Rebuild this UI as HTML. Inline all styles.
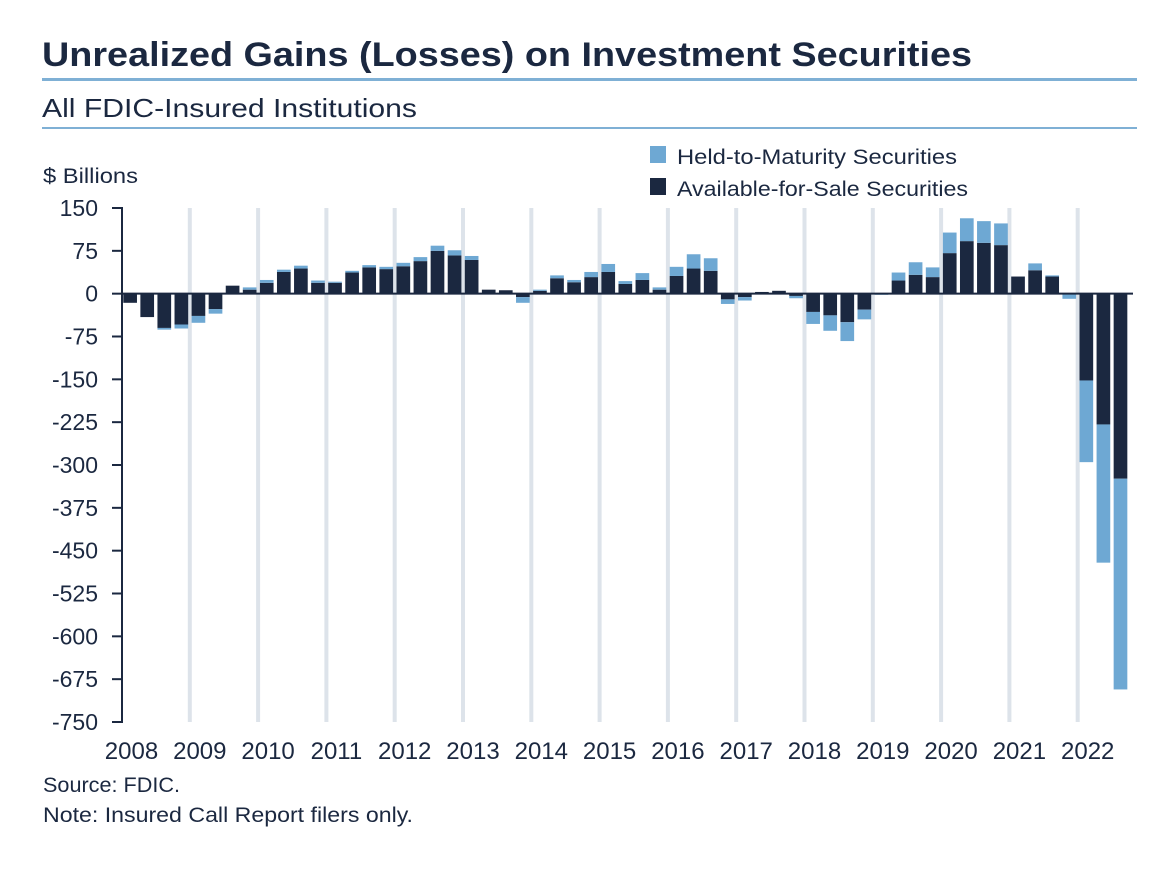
<!DOCTYPE html>
<html><head><meta charset="utf-8"><style>
html,body{margin:0;padding:0;background:#fff;}
svg{display:block;font-family:"Liberation Sans",sans-serif;}
</style></head><body>
<svg id="chart" width="1170" height="879" viewBox="0 0 1170 879">
<text x="42" y="66" font-size="34" font-weight="bold" fill="#1b2840" textLength="930" lengthAdjust="spacingAndGlyphs">Unrealized Gains (Losses) on Investment Securities</text>
<rect x="42" y="78" width="1095" height="3" fill="#7fb0d5"/>
<text x="42" y="117" font-size="26" fill="#1b2840" textLength="375" lengthAdjust="spacingAndGlyphs">All FDIC-Insured Institutions</text>
<rect x="42" y="127" width="1095" height="2" fill="#7fb0d5"/>
<text x="43" y="183" font-size="21" fill="#1b2840" textLength="95" lengthAdjust="spacingAndGlyphs">$ Billions</text>
<g>
<rect x="650" y="146" width="16" height="17" fill="#6ea8d3"/>
<text x="677" y="164" font-size="21" fill="#1b2840" textLength="280" lengthAdjust="spacingAndGlyphs">Held-to-Maturity Securities</text>
<rect x="650" y="178" width="16" height="17" fill="#1b2840"/>
<text x="677" y="196" font-size="21" fill="#1b2840" textLength="291" lengthAdjust="spacingAndGlyphs">Available-for-Sale Securities</text>
</g>
<g id="plot"></g>
<text x="43" y="792" font-size="21" fill="#1b2840" textLength="137" lengthAdjust="spacingAndGlyphs">Source: FDIC.</text>
<text x="43" y="822" font-size="21" fill="#1b2840" textLength="370" lengthAdjust="spacingAndGlyphs">Note: Insured Call Report filers only.</text>
</svg>
<script>
const years = [2008,2009,2010,2011,2012,2013,2014,2015,2016,2017,2018,2019,2020,2021,2022];
const yTicks = [150,75,0,-75,-150,-225,-300,-375,-450,-525,-600,-675,-750];
const afsValues = [-16,-41,-60,-54,-39,-27,14,7,19,38,44,19,19,37,46,43,48,57,75,67,59,7,6,-6,5,27,20,29,38,17,24,7,31,44,40,-10,-6,3,5,-4,-32,-38,-50,-28,0,23,33,29,71,92,89,85,30,41,30,1,-152,-229,-324];
const htmValues = [0,0,-3,-7,-12,-8,0,4,5,4,5,4,2,3,4,4,6,7,9,9,7,-1,-1,-10,2,5,4,9,14,5,12,4,16,25,22,-8,-6,0,-1,-4,-21,-27,-33,-17,-2,14,22,17,36,40,38,38,0,12,2,-9,-143,-242,-369];

const NS="http://www.w3.org/2000/svg";
const plot=document.getElementById('plot');
const X0=121.5, YW=68.3, QW=YW/4, Y150=208, Y750=722;
function yScale(v){return Y150+(150-v)*(Y750-Y150)/900;}
function xYear(i){return X0+i*YW;}
function xQuarter(i){return X0+i*QW;}
function mk(tag,attrs){const e=document.createElementNS(NS,tag);for(const k in attrs)e.setAttribute(k,attrs[k]);plot.appendChild(e);return e;}

for(let i=1;i<years.length;i++){
  const g=mk('rect',{x:xYear(i)-2,y:Y150,width:4,height:Y750-Y150,fill:'#dde3ea'});
  
  
}
yTicks.forEach(v=>{
  const y=yScale(v);
  const t=mk('line',{x1:112,x2:122,y1:y,y2:y,stroke:'#1b2840','stroke-width':2});
  
  
  const l=mk('text',{x:98,y:y+8,'font-size':23,fill:'#1b2840','text-anchor':'end'});
  l.textContent=v;
  
  
});
afsValues.forEach((a,i)=>{
  const h=htmValues[i];
  const x=xQuarter(i)+1.8, w=QW-3.4;
  let pos=0,neg=0;
  function seg(v,color,name){
    if(v===0)return;
    let y0,y1;
    if(v>0){y0=pos;y1=pos+v;pos=y1;}else{y0=neg;y1=neg+v;neg=y1;}
    const top=yScale(Math.max(y0,y1)),bot=yScale(Math.min(y0,y1));
    const r=mk('rect',{x:x,y:top,width:w,height:Math.max(bot-top,0.5),fill:color});
    
    
  }
  seg(a,'#1b2840','bar-afs');
  seg(h,'#6ea8d3','bar-htm');
});
const z=mk('line',{x1:122,x2:1133,y1:yScale(0),y2:yScale(0),stroke:'#1b2840','stroke-width':2});


const ax=mk('line',{x1:122,x2:122,y1:Y150-1,y2:Y750+1,stroke:'#1b2840','stroke-width':2});


years.forEach((yr,i)=>{
  const t=mk('text',{x:xYear(i)+10,y:759,'font-size':24,fill:'#1b2840','text-anchor':'middle'});
  t.textContent=yr;
  
  
});
</script>
</body></html>
